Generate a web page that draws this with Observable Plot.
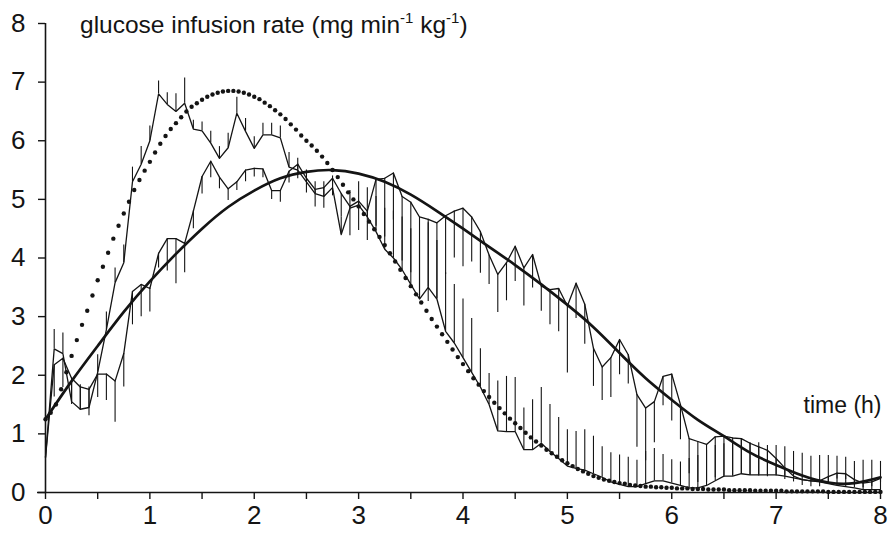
<!DOCTYPE html>
<html><head><meta charset="utf-8">
<script src="https://cdn.jsdelivr.net/npm/d3@7"></script>
<script src="https://cdn.jsdelivr.net/npm/@observablehq/plot@0.6"></script>
<style>body{margin:0;background:#fff}svg{display:block}</style>
</head><body><div id="chart"></div>
<script>
// mean glucose infusion rate, sampled every 5 min (0..8 h)
const sampleMinutes = 5;
const fastMean = [0.6,2.45,2.37,1.55,1.42,1.45,2.05,2.78,3.58,3.92,
5.3,5.6,6.0,6.8,6.62,6.5,6.64,6.2,6.17,5.96,
5.7,5.88,6.47,6.16,5.87,6.1,6.1,6.05,5.55,5.5,
5.3,5.1,5.05,5.2,4.4,4.85,4.9,4.7,4.45,4.15,
4.0,3.8,3.55,3.3,3.5,3.3,2.75,2.55,2.3,2.05,
1.8,1.5,1.05,1.04,1.04,0.73,0.73,0.84,0.7,0.58,
0.45,0.41,0.38,0.32,0.26,0.18,0.14,0.1,0.1,0.15,
0.2,0.2,0.16,0.12,0.08,0.08,0.12,0.2,0.28,0.28,
0.32,0.3,0.3,0.3,0.3,0.28,0.25,0.22,0.2,0.18,
0.15,0.12,0.1,0.08,0.05,0.05,0.05];
const fastSE = [0,0.33,0.35,0.4,0.42,0.35,0.3,0.3,0.25,0.3,
0.25,0.3,0.25,0.22,0.2,0.3,0.43,0.15,0.15,0.2,
0.2,0.25,0.27,0.22,0.2,0.2,0.2,0.2,0.25,0.2,
0.2,0.2,0.25,0.2,0.3,0.3,0.4,0.5,0.6,0.7,
0.8,0.9,0.95,1.0,1.1,1.0,1.0,1.0,1.0,0.92,
0.65,0.53,0.85,0.94,0.92,0.71,0.85,0.95,0.8,0.7,
0.62,0.63,0.69,0.64,0.52,0.5,0.5,0.5,0.45,0.55,
0.55,0.45,0.4,0.4,0.5,0.55,0.6,0.6,0.55,0.6,
0.6,0.55,0.55,0.5,0.5,0.5,0.45,0.45,0.42,0.45,
0.48,0.5,0.5,0.45,0.5,0.5,0.48];
const slowMean = [0.6,2.18,2.29,1.95,1.8,1.76,2.02,2.02,1.9,2.37,
3.43,3.55,3.48,4.08,4.33,4.33,4.25,4.8,5.39,5.65,
5.38,5.18,5.3,5.5,5.53,5.52,5.15,5.15,5.48,5.6,
5.36,5.17,5.2,5.36,5.1,4.88,4.97,4.8,5.34,5.36,
5.45,5.05,4.95,4.7,4.66,4.6,4.72,4.8,4.85,4.7,
4.45,4.05,3.72,3.92,4.2,3.83,4.06,3.52,3.46,3.48,
3.18,3.57,3.21,2.46,2.14,2.3,2.61,2.35,1.67,1.44,
1.55,1.98,2.02,1.5,0.92,0.87,0.82,0.95,0.96,0.93,
0.92,0.84,0.78,0.72,0.58,0.42,0.28,0.22,0.2,0.2,
0.27,0.33,0.32,0.22,0.16,0.18,0.24];
const slowSE = [0,0.55,0.5,0.45,0.4,0.45,0.4,0.45,0.7,0.57,
0.57,0.55,0.4,0.25,0.55,0.77,0.5,0.3,0.3,0.28,
0.2,0.2,0.15,0.2,0.15,0.15,0.15,0.2,0.2,0.25,
0.25,0.3,0.35,0.3,0.4,0.5,0.5,0.5,0.8,1.0,
0.8,1.1,1.2,1.4,1.4,1.3,1.0,0.8,1.0,0.77,
0.71,0.5,0.65,0.65,0.6,0.65,0.57,0.43,0.6,0.74,
1.14,0.6,0.68,0.65,0.57,0.68,0.6,0.5,0.9,0.9,
0.7,0.5,0.8,0.6,0.6,0.7,0.65,0.7,0.7,0.65,
0.6,0.55,0.5,0.45,0.3,0.2,0.1,0.1,0.1,0.1,
0.1,0.1,0.1,0.1,0.08,0.08,0.08];
// fitted curve (fast preparation), one dot every 3 min
const fitFastStepHours = 0.05;
const fitFast = [1.25,1.36,1.5,1.76,2.05,2.33,2.6,2.86,3.1,3.36,
3.62,3.85,4.09,4.33,4.55,4.76,4.96,5.16,5.33,5.49,
5.64,5.8,5.95,6.08,6.2,6.3,6.4,6.5,6.58,6.64,
6.7,6.75,6.79,6.82,6.84,6.85,6.85,6.84,6.82,6.79,
6.75,6.71,6.65,6.59,6.52,6.45,6.37,6.28,6.19,6.09,
6.0,5.92,5.83,5.73,5.62,5.5,5.38,5.25,5.12,5.0,
4.88,4.75,4.62,4.49,4.36,4.22,4.08,3.94,3.8,3.66,
3.52,3.38,3.24,3.1,2.96,2.83,2.7,2.57,2.44,2.31,
2.19,2.07,1.95,1.84,1.73,1.63,1.53,1.44,1.35,1.26,
1.18,1.1,1.02,0.94,0.87,0.8,0.73,0.67,0.61,0.55,
0.5,0.45,0.4,0.36,0.32,0.28,0.25,0.22,0.2,0.18,
0.16,0.15,0.13,0.12,0.11,0.1,0.1,0.09,0.09,0.08,
0.08,0.07,0.07,0.07,0.06,0.06,0.06,0.05,0.05,0.05,
0.05,0.04,0.04,0.04,0.04,0.04,0.03,0.03,0.03,0.03,
0.03,0.03,0.02,0.02,0.02,0.02,0.02,0.02,0.02,0.02,
0.01,0.01,0.01,0.01,0.01,0.01,0.01,0.01,0.01,0.01,
0.01];
// fitted curve (regular preparation)
const fitSlowTimes = [0,0.25,0.5,0.75,1,1.25,1.5,1.75,2,2.25,2.5,2.75,3,3.25,3.5,3.75,4,4.25,4.5,4.75,5,5.25,5.5,5.75,6,6.25,6.5,6.75,7,7.25,7.5,7.75,8];
const fitSlow = [1.25,1.9,2.5,3.08,3.6,4.07,4.5,4.87,5.15,5.36,5.47,5.5,5.44,5.3,5.08,4.8,4.5,4.19,3.88,3.55,3.2,2.82,2.38,1.95,1.58,1.24,0.96,0.68,0.47,0.29,0.17,0.16,0.26];
const xTicks = [0,0.5,1,1.5,2,2.5,3,3.5,4,4.5,5,5.5,6,6.5,7,7.5,8];
const yTicks = [0,1,2,3,4,5,6,7,8];
const yTitle = ["glucose infusion rate (mg min", "-1", " kg", "-1", ")"];
const xTitle = "time (h)";

const fastRows = fastMean.map((v, i) => ({t: i * sampleMinutes / 60, v, lo: v, hi: v + fastSE[i]}));
const slowRows = slowMean.map((v, i) => ({t: i * sampleMinutes / 60, v, lo: v - slowSE[i], hi: v}));
const fitFastRows = fitFast.map((v, i) => ({t: i * fitFastStepHours, v}));
const fitSlowRows = fitSlow.map((v, i) => ({t: fitSlowTimes[i], v}));

const ink = "#141414";
const font = "'Liberation Sans', Arial, Helvetica, sans-serif";

const svg = Plot.plot({
  width: 890, height: 539,
  marginLeft: 45, marginRight: 10, marginTop: 23, marginBottom: 47,
  style: {fontFamily: font, color: ink, background: "#fff"},
  x: {domain: [0, 8]},
  y: {domain: [0, 8]},
  marks: [
    Plot.ruleX(fastRows, {x: "t", y1: "lo", y2: "hi", stroke: ink, strokeWidth: 1.1}),
    Plot.ruleX(slowRows, {x: "t", y1: "lo", y2: "hi", stroke: ink, strokeWidth: 1.1}),
    Plot.line(fastRows, {x: "t", y: "v", stroke: ink, strokeWidth: 1.3}),
    Plot.line(slowRows, {x: "t", y: "v", stroke: ink, strokeWidth: 1.3}),
    Plot.line(fitSlowRows, {x: "t", y: "v", curve: "natural", stroke: ink, strokeWidth: 2.7}),
    Plot.dot(fitFastRows, {x: "t", y: "v", r: 2.2, fill: ink, stroke: null}),
    Plot.ruleY([0], {stroke: ink, strokeWidth: 1.6, insetLeft: -8}),
    Plot.ruleX([0], {stroke: ink, strokeWidth: 1.6}),
    Plot.axisX({ticks: xTicks, tickFormat: d => Number.isInteger(d) ? String(d) : "", tickSize: 7, tickPadding: 6, fontSize: 26, label: null, stroke: ink, strokeWidth: 1.4}),
    Plot.axisY({ticks: yTicks, tickFormat: d => String(d), tickSize: 7, tickPadding: 13, fontSize: 26, label: null, stroke: ink, strokeWidth: 1.4}),
    Plot.text([xTitle], {frameAnchor: "right", text: d => d, textAnchor: "end", fontSize: 23, dy: 148, dx: 1, fill: ink})
  ]
});

const title = d3.select(svg).append("text")
  .attr("x", 80).attr("y", 33).attr("text-anchor", "start")
  .attr("font-size", 24.5).attr("fill", ink).attr("font-family", font);
yTitle.forEach((s, k) => {
  const sup = k === 1 || k === 3;
  const ts = title.append("tspan").text(s);
  if (sup) ts.attr("font-size", 15).attr("dy", -10);
  else if (k > 0) ts.attr("dy", 10);
});

document.getElementById("chart").appendChild(svg);
</script>
</body></html>
